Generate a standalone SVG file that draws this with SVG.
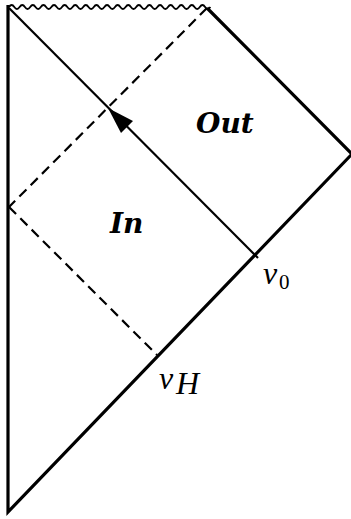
<svg xmlns="http://www.w3.org/2000/svg" width="351" height="519" viewBox="0 0 351 519">
<style>
.thick{stroke:#000;stroke-width:3.2;fill:none;stroke-linejoin:miter}
.thin{stroke:#000;stroke-width:2.2;fill:none}
.wave{stroke:#000;stroke-width:1.8;fill:none}
.dash{stroke:#000;stroke-width:2.2;fill:none;stroke-dasharray:10 6}
.lbl{font-family:"DejaVu Serif","Liberation Serif",serif;font-style:italic;font-weight:bold;font-size:28px;fill:#000}
.math{font-family:"Liberation Serif","DejaVu Serif",serif;font-style:italic;font-size:32px;fill:#000}
.sub{font-family:"Liberation Serif","DejaVu Serif",serif;font-size:21px;fill:#000}
</style>
<rect width="351" height="519" fill="#fff"/>
<g id="connectors">
<path id="boundary" class="thick" d="M8,5 L8,512 L352,154 L207,8"/>
<path id="singularity" class="wave" d="M9,7 q2.65,-4 5.3,0 t5.3,0 t5.3,0 t5.3,0 t5.3,0 t5.3,0 t5.3,0 t5.3,0 t5.3,0 t5.3,0 t5.3,0 t5.3,0 t5.3,0 t5.3,0 t5.3,0 t5.3,0 t5.3,0 t5.3,0 t5.3,0 t5.3,0 t5.3,0 t5.3,0 t5.3,0 t5.3,0 t5.3,0 t5.3,0 t5.3,0 t5.3,0 t5.3,0 t5.3,0 t5.3,0 t5.3,0 t5.3,0 t5.3,0 t5.3,0 t5.3,0 t5.3,0 t5.3,0"/>
<path id="ray" class="thin" d="M9,8 L258,258"/>
<polygon id="arrowhead" points="108,108 133,121 121,133" fill="#000"/>
<path id="horizon-top" class="dash" d="M207,8 L9,207"/>
<path id="horizon-bottom" class="dash" d="M9,207 L157,355"/>
</g>
<g id="out"><text class="lbl" x="196" y="133">Out</text></g>
<g id="in"><text class="lbl" x="110" y="233">In</text></g>
<g id="v0"><text class="math" x="263" y="284">v</text><text class="sub" x="279" y="289">0</text></g>
<g id="vH"><text class="math" x="159" y="389">v</text><text class="math" x="176" y="394" font-size="23">H</text></g>
</svg>
